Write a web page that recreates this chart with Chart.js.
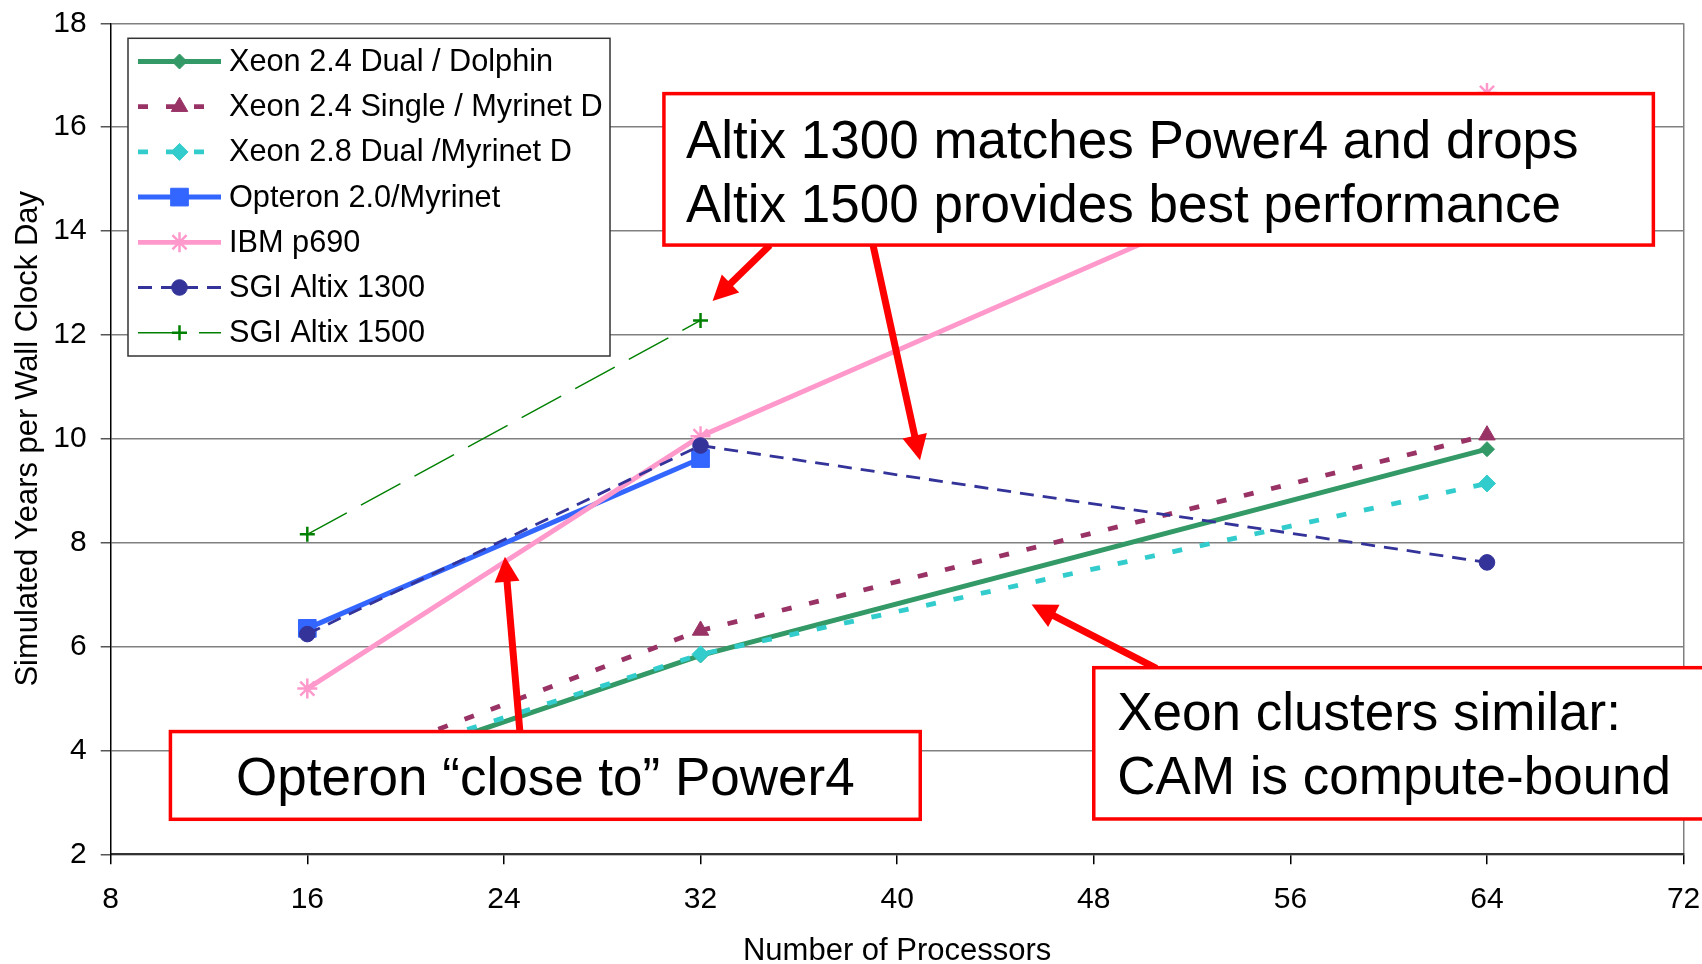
<!DOCTYPE html>
<html><head><meta charset="utf-8">
<script src="https://cdn.jsdelivr.net/npm/chart.js@4/dist/chart.umd.min.js"></script>
<style>html,body{margin:0;padding:0;background:#fff;}canvas{display:block;}</style>
</head><body>
<canvas id="c" width="1702" height="964"></canvas>
<script>
// ---------------- data ----------------
const processors = [16, 32, 64];
const seriesNames = [
  'Xeon 2.4 Dual / Dolphin',
  'Xeon 2.4 Single / Myrinet D',
  'Xeon 2.8 Dual /Myrinet D',
  'Opteron 2.0/Myrinet',
  'IBM p690',
  'SGI Altix 1300',
  'SGI Altix 1500'
];
const xeon24DualDolphin   = [3.27, 5.83, 9.80];
const xeon24SingleMyrinet = [3.46, 6.31, 10.07];
const xeon28DualMyrinet   = [3.41, 5.85, 9.14];
const opteron20Myrinet    = [6.35, 9.62];
const ibmP690             = [5.19, 10.05, 16.66];
const sgiAltix1300        = [6.24, 9.87, 7.62];
const sgiAltix1500        = [8.16, 12.28];
const xTickValues = [8, 16, 24, 32, 40, 48, 56, 64, 72];
const yTickValues = [2, 4, 6, 8, 10, 12, 14, 16, 18];
const xTitle = 'Number of Processors';
const yTitle = 'Simulated Years per Wall Clock Day';
const noteAltix = ['Altix 1300 matches Power4 and drops', 'Altix 1500 provides best performance'];
const noteOpteron = ['Opteron \u201cclose to\u201d Power4'];
const noteXeon = ['Xeon clusters similar:', 'CAM is compute-bound'];

// ---------------- styles ----------------
const FONT = '"Liberation Sans", Arial, sans-serif';
Chart.defaults.font.family = FONT;
Chart.defaults.color = '#000';

const seriesValues = [xeon24DualDolphin, xeon24SingleMyrinet, xeon28DualMyrinet,
  opteron20Myrinet, ibmP690, sgiAltix1300, sgiAltix1500];
const styles = [
  {c:'#339966', w:5,   dash:[],       ps:'rectRot',  r:7.5, bw:1},
  {c:'#993366', w:4.8, dash:[10,18],  ps:'triangle', r:9.5, bw:1},
  {c:'#33CCCC', w:4.8, dash:[10,18],  ps:'rectRot',  r:8.5, bw:1},
  {c:'#3366FF', w:5,   dash:[],       ps:'rect',     r:12.5,bw:1},
  {c:'#FF99CC', w:4.8, dash:[],       ps:'star',     r:10,  bw:2.5},
  {c:'#333399', w:2.8, dash:[14,9],   ps:'circle',   r:7.8, bw:1},
  {c:'#008000', w:1.4, dash:[45,16],  ps:'cross',    r:7.5, bw:2.5}
];

const datasets = seriesNames.map((name, i) => {
  const s = styles[i];
  return {
    label: name,
    data: seriesValues[i].map((v, k) => ({x: processors[k], y: v})),
    borderColor: s.c, backgroundColor: s.c,
    borderWidth: s.w, borderDash: s.dash,
    pointStyle: s.ps, pointRadius: s.r,
    pointBackgroundColor: s.c, pointBorderColor: s.c, pointBorderWidth: s.bw,
    pointHoverRadius: s.r,
    tension: 0, fill: false,
    order: seriesNames.length - i
  };
});

// ---------------- annotations (data coordinates) ----------------
const boxes = [
  {x1:30.51, x2:70.77, yTop:16.646, yBot:13.73, lines:noteAltix, align:'left', dx:22, base:[64,128]},
  {x1:10.43, x2:40.94, yTop:4.363,  yBot:2.674, lines:noteOpteron, align:'center', dx:0, base:[63]},
  {x1:48.0,  x2:74.5,  yTop:5.593,  yBot:2.68,  lines:noteXeon, align:'left', dx:23.5, base:[62.5,126]}
];
const arrows = [
  {from:[34.82,13.726], to:[32.49,12.654]},
  {from:[39.02,13.726], to:[40.93,9.588]},
  {from:[24.65,4.36],   to:[24.04,7.727]},
  {from:[50.55,5.58],   to:[45.47,6.811]}
];

function drawArrow(ctx, x1, y1, x2, y2) {
  const ang = Math.atan2(y2 - y1, x2 - x1);
  const headLen = 25, half = 12.5;
  const bx = x2 - headLen * Math.cos(ang), by = y2 - headLen * Math.sin(ang);
  ctx.strokeStyle = '#FF0000'; ctx.fillStyle = '#FF0000';
  ctx.lineWidth = 7; ctx.lineCap = 'butt';
  ctx.beginPath(); ctx.moveTo(x1, y1); ctx.lineTo(bx + 2*Math.cos(ang), by + 2*Math.sin(ang)); ctx.stroke();
  ctx.beginPath();
  ctx.moveTo(x2, y2);
  ctx.lineTo(bx + half * Math.sin(ang), by - half * Math.cos(ang));
  ctx.lineTo(bx - half * Math.sin(ang), by + half * Math.cos(ang));
  ctx.closePath(); ctx.fill();
}

const annotationPlugin = {
  id: 'notes',
  afterDraw(chart) {
    const ctx = chart.ctx, xs = chart.scales.x, ys = chart.scales.y;
    ctx.save();
    arrows.forEach(a => drawArrow(ctx,
      xs.getPixelForValue(a.from[0]), ys.getPixelForValue(a.from[1]),
      xs.getPixelForValue(a.to[0]), ys.getPixelForValue(a.to[1])));
    boxes.forEach(b => {
      const L = xs.getPixelForValue(b.x1), R = xs.getPixelForValue(b.x2);
      const T = ys.getPixelForValue(b.yTop), B = ys.getPixelForValue(b.yBot);
      ctx.fillStyle = '#fff'; ctx.fillRect(L, T, R - L, B - T);
      ctx.strokeStyle = '#FF0000'; ctx.lineWidth = 3.5; ctx.setLineDash([]);
      ctx.strokeRect(L, T, R - L, B - T);
      ctx.fillStyle = '#000'; ctx.font = '53px ' + FONT; ctx.textBaseline = 'alphabetic';
      b.lines.forEach((t, k) => {
        if (b.align === 'center') { ctx.textAlign = 'center'; ctx.fillText(t, (L + R) / 2, T + b.base[k]); }
        else { ctx.textAlign = 'left'; ctx.fillText(t, L + b.dx, T + b.base[k]); }
      });
    });
    ctx.restore();
  }
};

const legendPlugin = {
  id: 'boxLegend',
  afterDraw(chart) {
    const ctx = chart.ctx;
    ctx.save();
    const L = 128, T = 38.3, W = 482, H = 317.7;
    ctx.fillStyle = '#fff'; ctx.fillRect(L, T, W, H);
    ctx.strokeStyle = '#333'; ctx.lineWidth = 1.5; ctx.strokeRect(L, T, W, H);
    chart.data.datasets.forEach((ds, i) => {
      const y = 61.5 + i * 45.2;
      ctx.save();
      ctx.strokeStyle = ds.borderColor; ctx.lineWidth = ds.borderWidth;
      ctx.setLineDash(ds.borderDash || []);
      ctx.beginPath(); ctx.moveTo(138, y); ctx.lineTo(221, y); ctx.stroke();
      ctx.restore();
      ctx.save();
      ctx.fillStyle = ds.pointBackgroundColor; ctx.strokeStyle = ds.pointBorderColor;
      ctx.lineWidth = ds.pointBorderWidth; ctx.setLineDash([]);
      Chart.helpers.drawPoint(ctx, {pointStyle: ds.pointStyle, radius: ds.pointRadius, rotation: 0, borderWidth: ds.pointBorderWidth}, 179.5, y);
      ctx.restore();
      ctx.fillStyle = '#000'; ctx.font = '30.7px ' + FONT;
      ctx.textBaseline = 'middle'; ctx.textAlign = 'left';
      ctx.fillText(ds.label, 229, y + 1);
    });
    ctx.restore();
  }
};

function zeroPad(s) { s.paddingTop = 0; s.paddingBottom = 0; s.paddingLeft = 0; s.paddingRight = 0; }

new Chart(document.getElementById('c'), {
  type: 'line',
  data: {datasets},
  plugins: [annotationPlugin, legendPlugin],
  options: {
    responsive: false, animation: false, devicePixelRatio: 1,
    layout: {padding: {left: 0, top: 23.3, right: 18.4, bottom: 0}},
    plugins: {legend: {display: false}, tooltip: {enabled: false}},
    events: [],
    scales: {
      x: {
        type: 'linear', min: 8, max: 72,
        afterBuildTicks: s => { s.ticks = xTickValues.map(v => ({value: v})); },
        afterFit: s => { s.height = 109.7; zeroPad(s); },
        ticks: {font: {size: 30}, padding: 17.5, maxRotation: 0, autoSkip: false, color: '#000'},
        grid: {
          color: c => (c.tick && c.tick.value === 72) ? '#808080' : 'rgba(0,0,0,0)',
          lineWidth: 1.5, drawTicks: true, tickLength: 10, tickColor: '#000', tickWidth: 1.5
        },
        border: {display: true, color: '#333', width: 2},
        title: {display: true, text: xTitle, font: {size: 31, lineHeight: 1}, padding: {top: 0, bottom: -3}, color: '#000'}
      },
      y: {
        type: 'linear', min: 2, max: 18,
        afterBuildTicks: s => { s.ticks = yTickValues.map(v => ({value: v})); },
        afterFit: s => { s.width = 110.7; zeroPad(s); },
        ticks: {font: {size: 30}, padding: 14, color: '#000'},
        grid: {color: '#808080', lineWidth: 1.5, drawTicks: true, tickLength: 10, tickColor: '#555', tickWidth: 1.5},
        border: {display: true, color: '#000', width: 1.5},
        title: {display: true, text: yTitle, font: {size: 31, lineHeight: 1}, padding: {top: 12.5, bottom: 0}, color: '#000'}
      }
    }
  }
});
</script>
</body></html>
